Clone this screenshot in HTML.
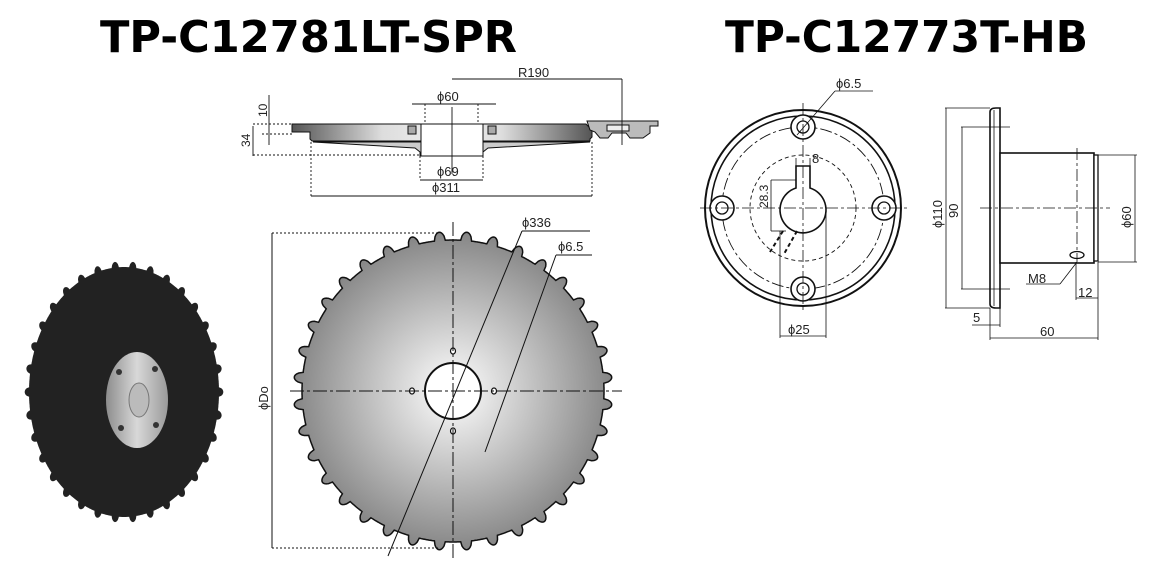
<!DOCTYPE html>
<html><head><meta charset="utf-8"><style>
html,body{margin:0;padding:0;background:#fff;}
svg{display:block}
text{font-family:"Liberation Sans",sans-serif;fill:#222}
.t{font-family:"DejaVu Sans","Liberation Sans",sans-serif;font-weight:bold;fill:#000}
</style></head><body>
<svg id="s" width="1153" height="577" viewBox="0 0 1153 577" xmlns="http://www.w3.org/2000/svg">
<defs>
<radialGradient id="g1" cx="0.5" cy="0.5" r="0.55"><stop offset="0" stop-color="#fff"/><stop offset="1" stop-color="#7a7a7a"/></radialGradient>
<linearGradient id="hub" x1="0" x2="1"><stop offset="0" stop-color="#8d8d8d"/><stop offset="0.5" stop-color="#d8d8d8"/><stop offset="1" stop-color="#9a9a9a"/></linearGradient>
<linearGradient id="pl" x1="0" x2="1"><stop offset="0" stop-color="#555"/><stop offset="0.3" stop-color="#ddd"/><stop offset="0.5" stop-color="#eee"/><stop offset="0.7" stop-color="#ddd"/><stop offset="1" stop-color="#555"/></linearGradient>
</defs>
<text class="t" x="100" y="52" font-size="44" textLength="417" lengthAdjust="spacingAndGlyphs">TP-C12781LT-SPR</text>
<text class="t" x="725" y="52" font-size="44" textLength="363" lengthAdjust="spacingAndGlyphs">TP-C12773T-HB</text>

<path id="photo" fill="#222"/>
<ellipse cx="137" cy="400" rx="31" ry="48" fill="url(#hub)"/>
<ellipse cx="139" cy="400" rx="10" ry="17" fill="#bbb" stroke="#777"/>
<circle cx="119" cy="372" r="3" fill="#333"/><circle cx="155" cy="369" r="3" fill="#333"/>
<circle cx="121" cy="428" r="3" fill="#333"/><circle cx="156" cy="425" r="3" fill="#333"/>

<path id="gear" fill="url(#g1)" stroke="#111" stroke-width="1.5"/>
<circle cx="453" cy="391" r="28" fill="#fff" stroke="#111" stroke-width="2"/>
<g fill="#fff" stroke="#111" stroke-width="1.2">
<ellipse cx="453" cy="351" rx="2.5" ry="3"/><ellipse cx="453" cy="431" rx="2.5" ry="3"/>
<ellipse cx="412" cy="391" rx="2.5" ry="3"/><ellipse cx="494" cy="391" rx="2.5" ry="3"/></g>
<g stroke="#111" stroke-width="1" fill="none">
<line x1="290" y1="391" x2="622" y2="391" stroke-dasharray="14,3,3,3"/>
<line x1="453" y1="222" x2="453" y2="558" stroke-dasharray="14,3,3,3"/>
<line x1="388" y1="556" x2="522" y2="231"/><line x1="522" y1="231" x2="590" y2="231"/>
<line x1="485" y1="452" x2="556" y2="255"/><line x1="556" y1="255" x2="592" y2="255"/>
<line x1="272" y1="233" x2="272" y2="548"/>
<line x1="272" y1="233" x2="440" y2="233" stroke-dasharray="2,2"/>
<line x1="272" y1="548" x2="440" y2="548" stroke-dasharray="2,2"/>
</g>
<text x="522" y="227" font-size="13">ϕ336</text>
<text x="558" y="251" font-size="13">ϕ6.5</text>
<text transform="translate(268,410) rotate(-90)" font-size="13">ϕDo</text>

<g stroke="#111" stroke-width="1">
<path d="M292 124 L586 124 L592 130 L592 137 L590 139 L590 141 L312 141 L310 139 L310 132 L292 132 Z" fill="url(#pl)"/>
<path d="M313 142 L590 142 L488 148 L483 152 L483 156 L420 156 L420 152 L415 148 Z" fill="#ccc"/>
<rect x="421" y="124" width="62" height="32" fill="#fff"/>
<rect x="408" y="126" width="8" height="8" fill="#aaa"/><rect x="488" y="126" width="8" height="8" fill="#aaa"/>
<path d="M587 121 L658 121 L658 126 L650 126 L650 133 L643 138 L630 138 L626 133 L612 133 L608 138 L600 138 L595 132 L590 130 Z" fill="#bbb"/>
<rect x="607" y="125" width="22" height="6" fill="#eee"/>
</g>
<g stroke="#111" stroke-width="0.9" fill="none">
<line x1="452" y1="79" x2="622" y2="79"/><line x1="622" y1="79" x2="622" y2="145"/>
<line x1="452" y1="107" x2="452" y2="174"/>
<line x1="412" y1="104" x2="496" y2="104"/>
<line x1="425" y1="104" x2="425" y2="124" stroke-dasharray="2,2"/><line x1="478" y1="104" x2="478" y2="124" stroke-dasharray="2,2"/>
<line x1="420" y1="156" x2="420" y2="180" stroke-dasharray="2,2"/><line x1="483" y1="156" x2="483" y2="180" stroke-dasharray="2,2"/>
<line x1="420" y1="180" x2="483" y2="180"/>
<line x1="311" y1="142" x2="311" y2="197" stroke-dasharray="2,2"/><line x1="592" y1="142" x2="592" y2="197" stroke-dasharray="2,2"/>
<line x1="311" y1="196" x2="592" y2="196"/>
<line x1="269" y1="95" x2="269" y2="145"/><line x1="253" y1="126" x2="253" y2="156"/>
<line x1="253" y1="124" x2="292" y2="124" stroke-dasharray="2,2"/>
<line x1="262" y1="134" x2="292" y2="134" stroke-dasharray="2,2"/>
<line x1="253" y1="155" x2="420" y2="155" stroke-dasharray="2,2"/>
</g>
<text x="518" y="77" font-size="13">R190</text>
<text x="437" y="101" font-size="13">ϕ60</text>
<text x="437" y="176" font-size="13">ϕ69</text>
<text x="432" y="192" font-size="13">ϕ311</text>
<text transform="translate(267,117) rotate(-90)" font-size="12">10</text>
<text transform="translate(250,147) rotate(-90)" font-size="12">34</text>

<g stroke="#111" fill="none">
<circle cx="803" cy="208" r="98" stroke-width="2"/>
<circle cx="803" cy="208" r="92" stroke-width="1.6"/>
<circle cx="803" cy="208" r="81" stroke-width="0.9" stroke-dasharray="12,3,3,3"/>
<circle cx="803" cy="208" r="53" stroke-width="0.9" stroke-dasharray="4,3"/>
<g stroke-width="1.6" fill="#fff">
<circle cx="803" cy="127" r="12"/><circle cx="722" cy="208" r="12"/><circle cx="884" cy="208" r="12"/><circle cx="803" cy="289" r="12"/></g>
<g stroke-width="1.3">
<circle cx="803" cy="127" r="6"/><circle cx="722" cy="208" r="6"/><circle cx="884" cy="208" r="6"/><circle cx="803" cy="289" r="6"/></g>
<path d="M796 188 A23 23 0 1 0 810 188 L810 166 L796 166 Z" fill="#fff" stroke-width="1.6"/>
<g stroke-width="0.8">
<line x1="700" y1="208" x2="910" y2="208" stroke-dasharray="12,3,3,3"/>
<line x1="803" y1="103" x2="803" y2="313" stroke-dasharray="12,3,3,3"/>
<line x1="797" y1="135" x2="835" y2="91"/><line x1="835" y1="91" x2="873" y2="91"/>
<line x1="796" y1="166" x2="796" y2="158"/><line x1="810" y1="166" x2="810" y2="158"/>
<line x1="771" y1="180" x2="796" y2="180"/><line x1="771" y1="180" x2="771" y2="231"/><line x1="771" y1="231" x2="786" y2="231"/>
<line x1="780" y1="231" x2="780" y2="338"/><line x1="826" y1="208" x2="826" y2="338"/>
<line x1="780" y1="336" x2="826" y2="336"/>
</g>
<g stroke-width="2" stroke-dasharray="4,3"><line x1="783" y1="231" x2="770" y2="252"/><line x1="797" y1="231" x2="784" y2="254"/></g>
</g>
<text x="836" y="88" font-size="13">ϕ6.5</text>
<text x="812" y="163" font-size="13">8</text>
<text transform="translate(768,208) rotate(-90)" font-size="12">28.3</text>
<text x="788" y="334" font-size="13">ϕ25</text>

<g stroke="#111" fill="none">
<path d="M990 112 Q990 108 996 108 L1000 108 L1000 308 L996 308 Q990 308 990 304 Z" fill="#fff" stroke-width="1.6"/>
<line x1="994" y1="110" x2="994" y2="306" stroke-width="0.8"/>
<rect x="1000" y="153" width="94" height="110" fill="#fff" stroke-width="1.6"/>
<rect x="1094" y="155" width="4" height="106" fill="#fff" stroke-width="1.3"/>
<ellipse cx="1077" cy="255" rx="7" ry="3.5" stroke-width="1.3"/>
<g stroke-width="0.8">
<line x1="980" y1="208" x2="1110" y2="208" stroke-dasharray="12,3,3,3"/>
<line x1="1077" y1="148" x2="1077" y2="262" stroke-dasharray="12,3,3,3"/>
<line x1="945" y1="108" x2="990" y2="108"/><line x1="945" y1="308" x2="990" y2="308"/><line x1="946" y1="108" x2="946" y2="308"/>
<line x1="961" y1="127" x2="1010" y2="127"/><line x1="961" y1="289" x2="1010" y2="289"/><line x1="962" y1="127" x2="962" y2="289"/>
<line x1="1098" y1="155" x2="1137" y2="155"/><line x1="1098" y1="262" x2="1137" y2="262"/><line x1="1135" y1="155" x2="1135" y2="262"/>
<line x1="1077" y1="262" x2="1060" y2="284"/><line x1="1060" y1="284" x2="1026" y2="284"/>
<line x1="1076" y1="262" x2="1076" y2="300"/><line x1="1098" y1="262" x2="1098" y2="340"/>
<line x1="1076" y1="298" x2="1098" y2="298"/>
<line x1="990" y1="308" x2="990" y2="340"/><line x1="1000" y1="308" x2="1000" y2="327"/>
<line x1="972" y1="325" x2="1000" y2="325"/>
<line x1="990" y1="338" x2="1098" y2="338"/>
</g></g>
<text transform="translate(942,228) rotate(-90)" font-size="13">ϕ110</text>
<text transform="translate(958,218) rotate(-90)" font-size="13">90</text>
<text transform="translate(1131,228) rotate(-90)" font-size="13">ϕ60</text>
<text x="1028" y="283" font-size="13">M8</text>
<text x="1078" y="297" font-size="13">12</text>
<text x="973" y="322" font-size="13">5</text>
<text x="1040" y="336" font-size="13">60</text>
</svg>
<script>
function gear(cx,cy,rx,ry,n,h){var d="",N=n*24;for(var i=0;i<=N;i++){var a=i/N*2*Math.PI,f=(i%24)/24,t=0;if(f>0.3&&f<0.7){t=Math.sin((f-0.3)/0.4*Math.PI);t=Math.sqrt(t);}var k=1+h*t;d+=(i?"L":"M")+(cx+rx*k*Math.sin(a)).toFixed(1)+" "+(cy-ry*k*Math.cos(a)).toFixed(1);}return d+"Z";}
document.getElementById("gear").setAttribute("d",gear(453,391,151,151,36,0.055));
document.getElementById("photo").setAttribute("d",gear(124,392,95,125,34,0.045));
</script>
</body></html>
